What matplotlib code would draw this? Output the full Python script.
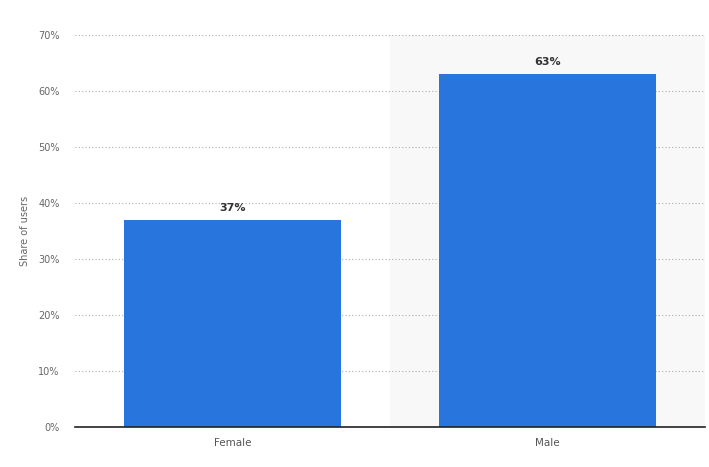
import matplotlib.pyplot as plt
import numpy as np

categories = ["Female", "Male"]
shares = [37, 63]

fig = plt.figure(figsize=(7.09, 4.67), dpi=100)
ax = fig.add_axes([75/709, 40/467, 630/709, 392/467])

x = np.arange(len(categories))
# light highlight band behind the second category
ax.axvspan(0.5, 1.5, color="#f8f8f8", zorder=0)
bars = ax.bar(x, shares, width=0.686, color="#2876dd", zorder=2)

ax.set_xlim(-0.5, 1.5)
ax.set_ylim(0, 70)
ax.set_yticks(np.arange(0, 71, 10))
ax.set_yticklabels([f"{v}%" for v in range(0, 71, 10)])
ax.set_xticks(x, categories)

ax.grid(axis="y", linestyle=(0, (1, 2)), color="#b0b0b0", linewidth=0.8, zorder=1)
ax.set_axisbelow(True)
for s in ["top", "right", "left"]:
    ax.spines[s].set_visible(False)
ax.spines["bottom"].set_color("#222222")
ax.spines["bottom"].set_linewidth(1.2)
ax.spines["bottom"].set_zorder(3)

ax.tick_params(axis="y", length=0, pad=11, labelsize=7, labelcolor="#666666")
ax.tick_params(axis="x", length=0, pad=8, labelsize=7.5, labelcolor="#555555")

ax.set_ylabel("Share of users", fontsize=7, color="#666666", labelpad=6)

ax.bar_label(bars, labels=[f"{v}%" for v in shares], padding=5,
             fontsize=8, fontweight="bold", color="#333333")

fig.savefig("out.png", dpi=100)
